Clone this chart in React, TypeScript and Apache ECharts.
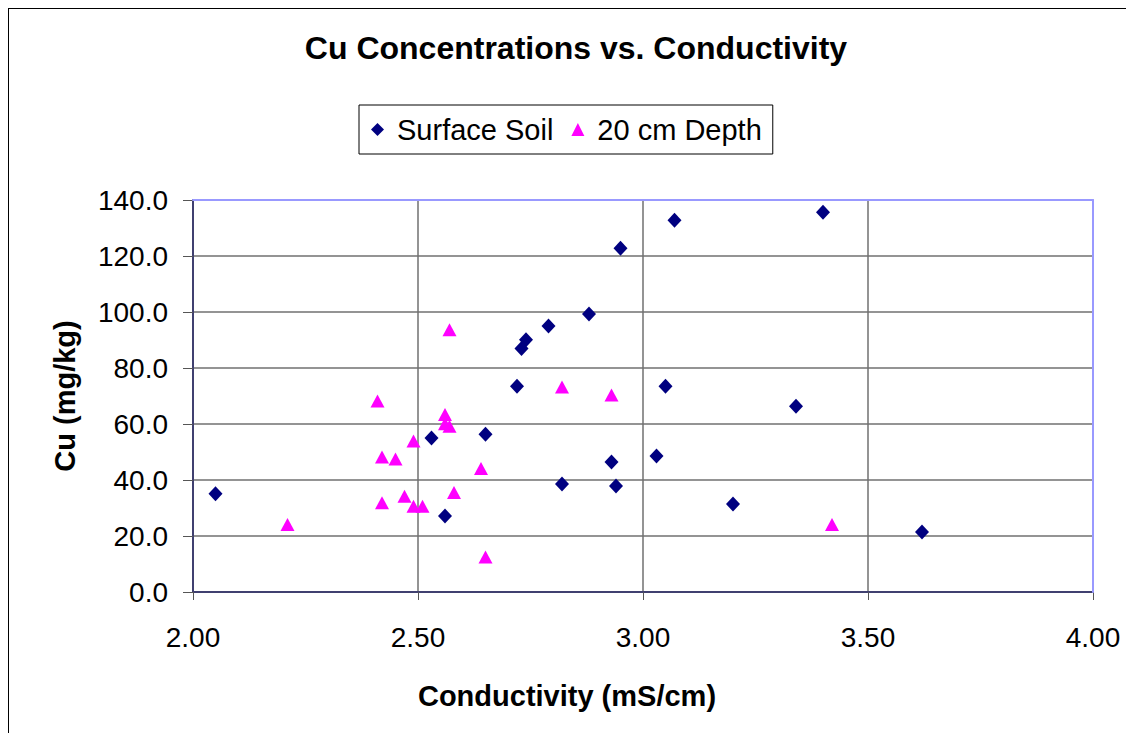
import React, { useEffect, useRef } from "react";
import * as echarts from "echarts";

const surfaceX = [2.05, 2.53, 2.65, 2.56, 2.95, 3.07, 3.40, 2.88, 2.79, 2.74, 2.73, 2.72, 3.05, 3.34, 2.93, 3.03, 2.82, 2.94, 3.20, 3.62];
const surfaceY = [35.1, 55.0, 56.3, 27.1, 122.8, 132.8, 135.6, 99.3, 95.0, 90.1, 87.0, 73.5, 73.5, 66.3, 46.4, 48.6, 38.6, 37.9, 31.4, 21.4];

const depthX = [2.57, 2.41, 2.56, 2.57, 2.56, 2.49, 2.42, 2.45, 2.64, 2.58, 2.47, 2.42, 2.49, 2.51, 2.21, 2.65, 2.82, 2.93, 3.42];
const depthY = [93.7, 68.2, 63.4, 59.2, 60.1, 53.9, 48.2, 47.5, 44.1, 35.5, 34.2, 31.9, 30.6, 30.6, 24.1, 12.5, 73.2, 70.4, 24.1];

const xTicks = { min: 2.0, max: 4.0, interval: 0.5 };
const yTicks = { min: 0, max: 140, interval: 20 };

const FONT = "'Liberation Sans', Arial, sans-serif";

export default function App() {
  const ref = useRef<HTMLDivElement>(null);
  useEffect(() => {
    if (!ref.current) return;
    const chart = echarts.init(ref.current, null, { renderer: "svg" });
    const surface = surfaceX.map((x, i) => [x, surfaceY[i]]);
    const depth = depthX.map((x, i) => [x, depthY[i]]);
    chart.setOption({
      animation: false,
      backgroundColor: "#ffffff",
      textStyle: { fontFamily: FONT },
      title: {
        text: "Cu Concentrations vs. Conductivity",
        left: 567,
        top: 23,
        textAlign: "center",
        padding: 0,
        textStyle: { fontFamily: FONT, fontSize: 32, fontWeight: "bold", color: "#000" },
      },
      legend: {
        left: 350,
        top: 96,
        padding: [10, 11, 10, 12],
        borderColor: "#000",
        borderWidth: 1,
        itemWidth: 13,
        itemHeight: 13,
        itemGap: 18,
        textStyle: { fontFamily: FONT, fontSize: 29, color: "#000", padding: [0, 0, 0, 8] },
        data: [
          { name: "Surface Soil", icon: "diamond", itemStyle: { opacity: 1 } },
          { name: "20 cm Depth", icon: "triangle", itemStyle: { opacity: 1 } },
        ],
      },
      grid: {
        left: 184,
        top: 191,
        width: 900,
        height: 392,
        show: false,
      },
      xAxis: [
        {
          type: "value",
          min: xTicks.min,
          max: xTicks.max,
          interval: xTicks.interval,
          name: "Conductivity (mS/cm)",
          nameLocation: "middle",
          nameGap: 89,
          nameTextStyle: { fontFamily: FONT, fontSize: 29, fontWeight: "bold", color: "#000", padding: [0, 152, 0, 0] },
          axisLine: { show: true, onZero: false, lineStyle: { color: "#404070", width: 2 } },
          axisTick: { show: true, length: 8, lineStyle: { color: "#555" } },
          axisLabel: {
            margin: 31,
            fontSize: 28,
            color: "#000",
            fontFamily: FONT,
            formatter: (v: number) => v.toFixed(2),
          },
          splitLine: { show: true, lineStyle: { color: "#707070", width: 1.5 } },
        },
        {
          type: "value",
          position: "top",
          min: xTicks.min,
          max: xTicks.max,
          interval: xTicks.interval,
          z: 5,
          axisLine: { show: true, onZero: false, lineStyle: { color: "#9999ff", width: 2 } },
          axisTick: { show: false },
          axisLabel: { show: false },
          splitLine: { show: false },
        },
      ],
      yAxis: [
        {
          type: "value",
          min: yTicks.min,
          max: yTicks.max,
          interval: yTicks.interval,
          name: "Cu (mg/kg)",
          nameLocation: "middle",
          nameGap: 114,
          nameTextStyle: { fontFamily: FONT, fontSize: 29, fontWeight: "bold", color: "#000" },
          axisLine: { show: true, onZero: false, lineStyle: { color: "#404070", width: 2 } },
          axisTick: { show: true, length: 10, lineStyle: { color: "#555" } },
          axisLabel: {
            margin: 25,
            fontSize: 28,
            color: "#000",
            fontFamily: FONT,
            formatter: (v: number) => v.toFixed(1),
          },
          splitLine: { show: true, lineStyle: { color: "#707070", width: 1.5 } },
        },
        {
          type: "value",
          position: "right",
          min: yTicks.min,
          max: yTicks.max,
          interval: yTicks.interval,
          z: 5,
          axisLine: { show: true, onZero: false, lineStyle: { color: "#9999ff", width: 2 } },
          axisTick: { show: false },
          axisLabel: { show: false },
          splitLine: { show: false },
        },
      ],
      series: [
        {
          name: "Surface Soil",
          type: "scatter",
          symbol: "diamond",
          symbolSize: [14, 15],
          itemStyle: { color: "#000080", opacity: 1 },
          data: surface,
          z: 10,
        },
        {
          name: "20 cm Depth",
          type: "scatter",
          symbol: "triangle",
          symbolSize: [14, 13],
          itemStyle: { color: "#ff00ff", opacity: 1 },
          data: depth,
          z: 10,
        },
      ],
    });
    return () => chart.dispose();
  }, []);
  return (
    <div style={{ width: 1126, height: 725, borderLeft: "1px solid #000", borderTop: "1px solid #000", boxSizing: "border-box", overflow: "hidden" }}>
      <div ref={ref} style={{ width: 1125, height: 724 }} />
    </div>
  );
}
